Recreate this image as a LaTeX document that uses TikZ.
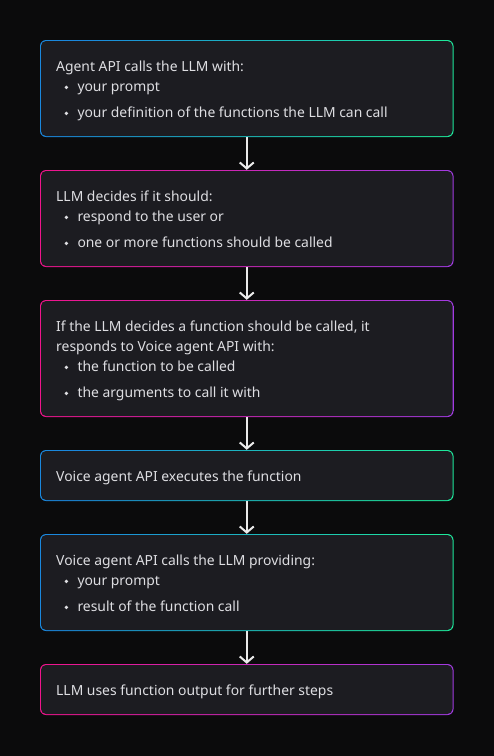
\documentclass[tikz,border=0pt]{standalone}
\usepackage{fontspec}
\setmainfont{Noto Sans}
\usetikzlibrary{arrows.meta,calc}
\definecolor{bg}{HTML}{0B0B0C}
\definecolor{boxfill}{HTML}{1C1C21}
\definecolor{txt}{HTML}{DEDEE2}
\definecolor{cblue}{HTML}{1A88DE}
\definecolor{cgreen}{HTML}{1EE89C}
\definecolor{cpink}{HTML}{F0148C}
\definecolor{cpurple}{HTML}{A23BE2}
\definecolor{arr}{HTML}{EAEAEA}
\tikzset{
  box/.style={rectangle, rounded corners=6pt, minimum width=413.5pt, inner sep=0pt, draw=none,
    path picture={\fill[boxfill, rounded corners=5pt]
      ([shift={(1pt,-1pt)}]path picture bounding box.north west) rectangle
      ([shift={(-1pt,1pt)}]path picture bounding box.south east);}},
  apibox/.style={box, left color=cblue, right color=cgreen, shading angle=75},
  llmbox/.style={box, left color=cpink, right color=cpurple},
  lbl/.style={anchor=base west, inner sep=0pt, text=txt, font=\fontsize{13.9pt}{16pt}\selectfont},
}
\newcommand{\bul}{\makebox[21.3pt][l]{\hspace{8.3pt}\tikz[baseline=-3.6pt]\fill[txt] (0,0) circle (1.9pt);}}
\begin{document}
\begin{tikzpicture}[x=1pt,y=-1pt]
\tikzset{flow/.style={draw=arr, line width=2pt, -{Straight Barb[length=6pt,width=14pt,line width=2pt]}}}
\useasboundingbox[fill=bg] (0,0) rectangle (494,756);
% boxes
\node[apibox, minimum height=97pt] (b1) at (246.75,88.5) {};
\node[llmbox, minimum height=97pt] (b2) at (246.75,218.5) {};
\node[llmbox, minimum height=117pt] (b3) at (246.75,358.5) {};
\node[apibox, minimum height=51pt] (b4) at (246.75,475.5) {};
\node[apibox, minimum height=97pt] (b5) at (246.75,582.5) {};
\node[llmbox, minimum height=51pt] (b6) at (246.75,689.5) {};
% texts
\node[lbl] (t1a) at (56,71) {Agent API calls the LLM with:};
\node[lbl] (t1b) at (56,91) {\bul your prompt};
\node[lbl] (t1c) at (56,117) {\bul your definition of the functions the LLM can call};
\node[lbl] (t2a) at (56,201) {LLM decides if it should:};
\node[lbl] (t2b) at (56,221) {\bul respond to the user or};
\node[lbl] (t2c) at (56,247) {\bul one or more functions should be called};
\node[lbl] (t3a) at (56,331) {If the LLM decides a function should be called, it};
\node[lbl] (t3b) at (56,351) {responds to Voice agent API with:};
\node[lbl] (t3c) at (56,371) {\bul the function to be called};
\node[lbl] (t3d) at (56,397) {\bul the arguments to call it with};
\node[lbl] (t4a) at (56,481) {Voice agent API executes the function};
\node[lbl] (t5a) at (56,565) {Voice agent API calls the LLM providing:};
\node[lbl] (t5b) at (56,585) {\bul your prompt};
\node[lbl] (t5c) at (56,611) {\bul result of the function call};
\node[lbl] (t6a) at (56,695) {LLM uses function output for further steps};
% arrows
\draw[flow] (b1.south) -- (b2.north);
\draw[flow] (b2.south) -- (b3.north);
\draw[flow] (b3.south) -- (b4.north);
\draw[flow] (b4.south) -- (b5.north);
\draw[flow] (b5.south) -- (b6.north);
\end{tikzpicture}
\end{document}
